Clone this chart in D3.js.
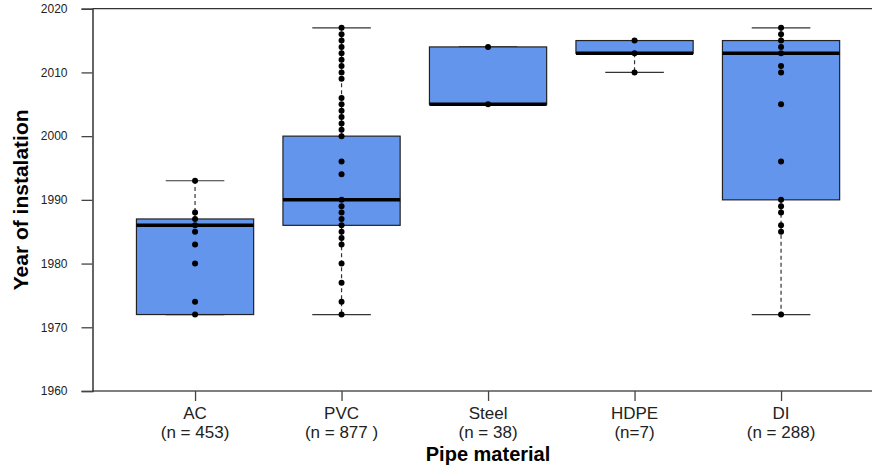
<!DOCTYPE html>
<html lang="en">
  <head>
    <meta charset="utf-8">
    <title>Year of instalation by pipe material</title>
    <style>
      body { margin: 0; background: white; }
      svg { display: block; font-family: "Liberation Sans", Arial, sans-serif; }
    </style>
    <script src="https://d3js.org/d3.v7.min.js"></script>
  </head>
  <body>
    <div class="chart"></div>
    <script>

    // values
    const materials = ["AC", "PVC", "Steel", "HDPE", "DI"];
    const counts = ["(n = 453)", "(n = 877 )", "(n = 38)", "(n=7)", "(n = 288)"];
    const whiskerLow = [1972, 1972, 2005, 2010, 1972];
    const q1 = [1972, 1986, 2005, 2013, 1990];
    const medians = [1986, 1990, 2005, 2013, 2013];
    const q3 = [1987, 2000, 2014, 2015, 2015];
    const whiskerHigh = [1993, 2017, 2014, 2015, 2017];

    const acPoints = [1993, 1988, 1987, 1986, 1985, 1983, 1980, 1974, 1972];
    const pvcPoints = [2017, 2016, 2015, 2014, 2013, 2012, 2011, 2010, 2009, 2006, 2005, 2004, 2003,
                       2002, 2001, 2000, 1996, 1994, 1990, 1989, 1988, 1987, 1986, 1985, 1984, 1983,
                       1980, 1977, 1974, 1972];
    const steelPoints = [2014, 2005];
    const hdpePoints = [2015, 2013, 2010];
    const diPoints = [2017, 2016, 2015, 2014, 2013, 2011, 2010, 2005, 1996, 1990, 1989, 1988, 1986, 1985, 1972];
    const allPoints = [acPoints, pvcPoints, steelPoints, hdpePoints, diPoints];

    const yTicks = [1960, 1970, 1980, 1990, 2000, 2010, 2020];

    const width = 872, height = 465;
    const plot = { left: 92.5, right: 883.6, top: 8.7, bottom: 391 };

    const svg = d3.select(".chart")
      .append("svg")
      .attr("width", width)
      .attr("height", height)

    // R style x range: 0.5..n+0.5 with 4% padding
    const x = d3.scaleLinear()
      .domain([0.3, 5.7])
      .range([plot.left, plot.right])

    const y = d3.scaleLinear()
      .domain([1960, 2020])
      .range([plot.bottom, plot.top])

    const boxW = x(1.8) - x(1)
    const capW = boxW / 2

    const data = materials.map((m, i) => ({
      name: m, count: counts[i], pos: i + 1,
      lo: whiskerLow[i], q1: q1[i], med: medians[i], q3: q3[i], hi: whiskerHigh[i],
      pts: allPoints[i]
    }))

    // plot frame (top and bottom edges, left axis)
    svg.append("line")
      .attr("x1", plot.left).attr("x2", plot.right)
      .attr("y1", y(2020)).attr("y2", y(2020))
      .attr("stroke", "#333").attr("stroke-width", 1.3)

    svg.append("line")
      .attr("x1", plot.left).attr("x2", plot.right)
      .attr("y1", y(1960)).attr("y2", y(1960))
      .attr("stroke", "#555").attr("stroke-width", 1.5)

    const yAxis = svg.append("g")
      .attr("transform", `translate(${plot.left},0)`)
      .call(d3.axisLeft(y).tickValues(yTicks).tickSize(11).tickPadding(14).tickFormat(d3.format("d")))

    yAxis.select(".domain").attr("stroke", "#333").attr("stroke-width", 1.5)
    yAxis.selectAll(".tick line").attr("stroke", "#444").attr("stroke-width", 1.3)
    yAxis.selectAll(".tick text")
      .style("font-size", "12px")
      .style("fill", "#222")

    const xAxis = svg.append("g")
      .attr("transform", `translate(0,${plot.bottom})`)
      .call(d3.axisBottom(x).tickValues(data.map(d => d.pos)).tickSize(10).tickFormat(""))

    xAxis.select(".domain").remove()
    xAxis.selectAll(".tick line").attr("stroke", "#444").attr("stroke-width", 1.3)

    const labels = svg.append("g")
      .selectAll("text")
      .data(data)
      .join("text")
      .attr("text-anchor", "middle")
      .style("font-size", "17px")
      .style("fill", "#222")

    labels.append("tspan")
      .attr("x", d => x(d.pos))
      .attr("y", 419)
      .text(d => d.name)

    labels.append("tspan")
      .attr("x", d => x(d.pos))
      .attr("y", 438)
      .text(d => d.count)

    svg.append("text")
      .attr("x", x(3))
      .attr("y", 461)
      .attr("text-anchor", "middle")
      .style("font-size", "20px")
      .style("font-weight", "bold")
      .text("Pipe material")

    svg.append("text")
      .attr("transform", `translate(28,${(plot.top + plot.bottom) / 2}) rotate(-90)`)
      .attr("text-anchor", "middle")
      .style("font-size", "21px")
      .style("font-weight", "bold")
      .text("Year of instalation")

    const groups = svg.append("g")
      .selectAll("g")
      .data(data)
      .join("g")

    // whiskers
    groups.append("line")
      .attr("x1", d => x(d.pos)).attr("x2", d => x(d.pos))
      .attr("y1", d => y(d.q3)).attr("y2", d => y(d.hi))
      .attr("stroke", "#333").attr("stroke-width", 1.2).attr("stroke-dasharray", "4,3")

    groups.append("line")
      .attr("x1", d => x(d.pos)).attr("x2", d => x(d.pos))
      .attr("y1", d => y(d.q1)).attr("y2", d => y(d.lo))
      .attr("stroke", "#333").attr("stroke-width", 1.2).attr("stroke-dasharray", "4,3")

    groups.append("line")
      .attr("x1", d => x(d.pos) - capW / 2).attr("x2", d => x(d.pos) + capW / 2)
      .attr("y1", d => y(d.hi)).attr("y2", d => y(d.hi))
      .attr("stroke", "#333").attr("stroke-width", 1.2)

    groups.append("line")
      .attr("x1", d => x(d.pos) - capW / 2).attr("x2", d => x(d.pos) + capW / 2)
      .attr("y1", d => y(d.lo)).attr("y2", d => y(d.lo))
      .attr("stroke", "#333").attr("stroke-width", 1.2)

    // boxes
    groups.append("rect")
      .attr("x", d => x(d.pos) - boxW / 2)
      .attr("width", boxW)
      .attr("y", d => y(d.q3))
      .attr("height", d => y(d.q1) - y(d.q3))
      .attr("fill", "#6495ed")
      .attr("stroke", "#222")
      .attr("stroke-width", 1.2)

    groups.append("line")
      .attr("x1", d => x(d.pos) - boxW / 2).attr("x2", d => x(d.pos) + boxW / 2)
      .attr("y1", d => y(d.med)).attr("y2", d => y(d.med))
      .attr("stroke", "black").attr("stroke-width", 3.5)

    // points on top
    groups.selectAll("circle")
      .data(d => d.pts.map(v => ({ pos: d.pos, v })))
      .join("circle")
      .attr("cx", d => x(d.pos))
      .attr("cy", d => y(d.v))
      .attr("r", 3)
      .attr("fill", "black")

    </script>
  </body>
</html>
